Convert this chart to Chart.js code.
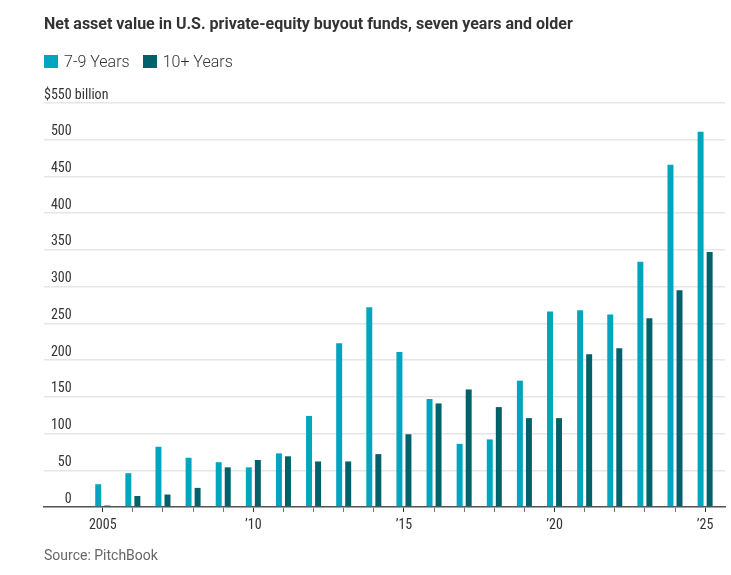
<!DOCTYPE html>
<html>
<head>
<meta charset="utf-8">
<title>Net asset value in U.S. private-equity buyout funds</title>
<script src="https://cdn.jsdelivr.net/npm/chart.js@4.4.1/dist/chart.umd.min.js"></script>
<style>
  body { margin: 0; background: #fff; }
  #wrap { position: relative; width: 731px; height: 575px; font-family: Roboto, sans-serif; color: #333; }
  #title { position: absolute; left: 44px; top: 14px; font-weight: 700; font-size: 16px; white-space: nowrap; }
  #legend { position: absolute; left: 44px; top: 52px; display: flex; font-size: 16px; font-weight: 300; }
  .item { display: flex; align-items: center; margin-right: 13px; }
  .swatch { width: 14px; height: 13px; margin-right: 6px; }
  #source { position: absolute; left: 44px; top: 547px; font-size: 14px; color: #666; }
  canvas { position: absolute; left: 0; top: 0; }
</style>
</head>
<body>
<div id="wrap">
  <canvas id="chart" width="731" height="575"></canvas>
  <div id="title">Net asset value in U.S. private-equity buyout funds, seven years and older</div>
  <div id="legend"></div>
  <div id="source">Source: PitchBook</div>
</div>
<script>
// Data ($ billion)
const years = [2005, 2006, 2007, 2008, 2009, 2010, 2011, 2012, 2013, 2014, 2015,
               2016, 2017, 2018, 2019, 2020, 2021, 2022, 2023, 2024, 2025];
const nav7to9 = [31, 46, 82, 67, 61, 54, 73, 124, 223, 272, 211,
                 147, 86, 92, 172, 266, 268, 262, 334, 466, 511];
const nav10plus = [2, 15, 17, 26, 54, 64, 69, 62, 62, 72, 99,
                   141, 160, 136, 121, 121, 208, 216, 257, 295, 347];
const tickYears = [2005, 2010, 2015, 2020, 2025];
const tickLabels = ['2005', '\u201910', '\u201915', '\u201920', '\u201925'];

const tickFont = { family: "'Liberation Sans Narrow', 'Roboto Condensed', Roboto, sans-serif", size: 14 };

// draws " billion" right after the top tick label
const billionLabel = {
  id: 'billionLabel',
  afterDraw(chart) {
    const { ctx, chartArea, scales } = chart;
    const y = scales.y;
    ctx.save();
    ctx.font = tickFont.size + 'px ' + tickFont.family;
    ctx.fillStyle = '#333';
    ctx.textBaseline = 'middle';
    ctx.textAlign = 'left';
    const x = chartArea.left + ctx.measureText('$550').width;
    ctx.fillText(' billion', x, y.getPixelForValue(y.max) - 8);
    ctx.restore();
  }
};

const chart = new Chart(document.getElementById('chart'), {
  type: 'bar',
  data: {
    datasets: [
      { label: '7-9 Years', data: years.map((yr, i) => ({ x: yr, y: nav7to9[i] })), backgroundColor: '#02a4be' },
      { label: '10+ Years', data: years.map((yr, i) => ({ x: yr, y: nav10plus[i] })), backgroundColor: '#00616a' }
    ]
  },
  options: {
    responsive: false,
    animation: false,
    layout: { padding: { left: 44, right: 6, top: 103, bottom: 40 } },
    datasets: { bar: { categoryPercentage: 0.6, barPercentage: 0.66, borderWidth: 0 } },
    plugins: { legend: { display: false }, tooltip: { enabled: false } },
    scales: {
      x: {
        type: 'linear',
        offset: false,
        min: 2003.05,
        max: 2025.66,
        afterBuildTicks: s => { s.ticks = years.map(v => ({ value: v })); },
        afterFit: s => { s.height = 28; },
        ticks: {
          autoSkip: false,
          maxRotation: 0,
          padding: 5,
          color: '#333',
          font: tickFont,
          callback: v => { const i = tickYears.indexOf(v); return i < 0 ? '' : tickLabels[i]; }
        },
        grid: {
          offset: false,
          drawOnChartArea: false,
          tickLength: 5,
          tickColor: c => tickYears.includes(c.tick && c.tick.value) ? '#333' : '#777',
          tickWidth: 1
        },
        border: { color: '#555', width: 1.5 }
      },
      y: {
        min: 0,
        max: 550,
        ticks: {
          stepSize: 50,
          mirror: true,
          crossAlign: 'far',
          padding: 0,
          labelOffset: -8,
          color: '#333',
          font: tickFont,
          callback: v => v === 550 ? '$550' : v
        },
        grid: { color: '#e6e6e6', lineWidth: 1.5, drawTicks: false },
        border: { display: false }
      }
    }
  },
  plugins: [billionLabel]
});

// legend from the datasets
const legend = document.getElementById('legend');
chart.data.datasets.forEach(ds => {
  const item = document.createElement('div');
  item.className = 'item';
  item.innerHTML = '<span class="swatch" style="background:' + ds.backgroundColor + '"></span>' + ds.label;
  legend.appendChild(item);
});
</script>
</body>
</html>
